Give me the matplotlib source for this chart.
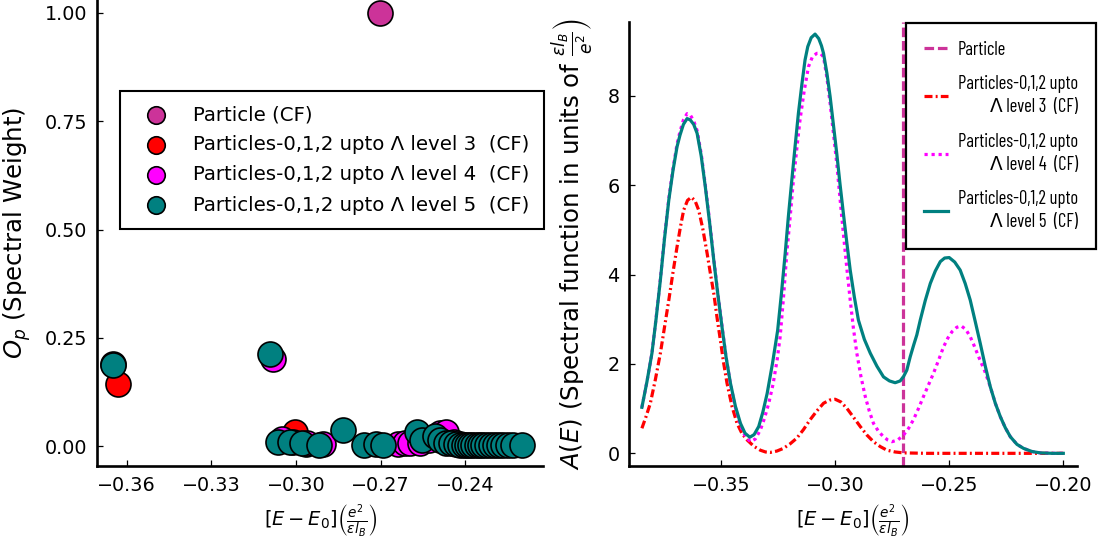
import matplotlib
matplotlib.use("Agg")
import matplotlib.pyplot as plt
from matplotlib import font_manager
from matplotlib.font_manager import FontProperties
from matplotlib.textpath import TextPath
from matplotlib.ticker import FuncFormatter

# ---------------- data: spectral weights (left panel) ----------------
particle_E = [-0.2703]
particle_W = [1.0]

lvl3_E = [-0.3630, -0.3004, -0.2965]
lvl3_W = [0.143, 0.033, 0.004]

lvl4_E = [-0.3650, -0.3083, -0.3050, -0.3010, -0.2960, -0.2905, -0.2640,
          -0.2615, -0.2595, -0.2560, -0.2530, -0.2490, -0.2467, -0.2440, -0.2420]
lvl4_W = [0.190, 0.200, 0.016, 0.010, 0.006, 0.004, 0.004,
          0.006, 0.008, 0.006, 0.015, 0.030, 0.032, 0.010, 0.004]

lvl5_E = [-0.3647, -0.3092, -0.3063, -0.3022, -0.2980, -0.2919, -0.2835, -0.2760,
          -0.2718, -0.2693, -0.2573, -0.2552, -0.2508, -0.2490, -0.2467, -0.2450,
          -0.2435, -0.2419, -0.2405, -0.2396, -0.2384, -0.2372, -0.2360, -0.2349,
          -0.2337, -0.2325, -0.2310, -0.2295, -0.2280, -0.2266, -0.2250, -0.2231,
          -0.2201]
lvl5_W = [0.187, 0.212, 0.010, 0.010, 0.006, 0.002, 0.037, 0.002,
          0.004, 0.002, 0.033, 0.013, 0.024, 0.013, 0.008, 0.006,
          0.004, 0.003, 0.003, 0.002, 0.002, 0.002, 0.002, 0.002,
          0.002, 0.002, 0.002, 0.002, 0.002, 0.002, 0.002, 0.002,
          0.002]

# ---------------- data: spectral functions (right panel) ----------------
A3_E = [-0.3847, -0.3829, -0.3810, -0.3788, -0.3766, -0.3748, -0.3729, -0.3711,
        -0.3693, -0.3678, -0.3664, -0.3647, -0.3630, -0.3614, -0.3598, -0.3580,
        -0.3561, -0.3547, -0.3532, -0.3518, -0.3503, -0.3489, -0.3474, -0.3452,
        -0.3430, -0.3408, -0.3386, -0.3357, -0.3328, -0.3305, -0.3285, -0.3256,
        -0.3227, -0.3198, -0.3168, -0.3139, -0.3110, -0.3080, -0.3051, -0.3025,
        -0.3000, -0.2975, -0.2949, -0.2920, -0.2890, -0.2861, -0.2832, -0.2802,
        -0.2773, -0.2737, -0.2700, -0.2600, -0.2000]
A3_V = [0.56, 0.82, 1.12, 1.65, 2.24, 2.82, 3.43, 4.04,
        4.62, 5.07, 5.44, 5.66, 5.73, 5.65, 5.44, 5.02,
        4.47, 4.03, 3.58, 3.05, 2.53, 2.03, 1.57, 1.05,
        0.67, 0.44, 0.30, 0.16, 0.07, 0.03, 0.02, 0.05,
        0.11, 0.21, 0.34, 0.53, 0.75, 0.95, 1.12, 1.19,
        1.21, 1.15, 1.01, 0.81, 0.60, 0.41, 0.26, 0.15,
        0.07, 0.03, 0.01, 0.00, 0.00]

A4_E = [-0.3847, -0.3825, -0.3803, -0.3785, -0.3766, -0.3748, -0.3729, -0.3711,
        -0.3693, -0.3680, -0.3665, -0.3649, -0.3635, -0.3620, -0.3605, -0.3587,
        -0.3569, -0.3550, -0.3532, -0.3514, -0.3496, -0.3478, -0.3459, -0.3437,
        -0.3415, -0.3393, -0.3371, -0.3350, -0.3328, -0.3310, -0.3291, -0.3272,
        -0.3254, -0.3241, -0.3227, -0.3212, -0.3197, -0.3183, -0.3168, -0.3154,
        -0.3136, -0.3117, -0.3099, -0.3080, -0.3065, -0.3051, -0.3036, -0.3022,
        -0.3008, -0.2993, -0.2979, -0.2964, -0.2949, -0.2934, -0.2920, -0.2905,
        -0.2887, -0.2868, -0.2850, -0.2832, -0.2811, -0.2790, -0.2770, -0.2751,
        -0.2725, -0.2700, -0.2678, -0.2657, -0.2635, -0.2613, -0.2591, -0.2569,
        -0.2547, -0.2525, -0.2506, -0.2488, -0.2467, -0.2447, -0.2427, -0.2408,
        -0.2390, -0.2371, -0.2345, -0.2320, -0.2298, -0.2276, -0.2254, -0.2232,
        -0.2203, -0.2174, -0.2137, -0.2101, -0.2050, -0.2000]
A4_V = [1.03, 1.60, 2.24, 3.02, 3.90, 4.83, 5.70, 6.36,
        6.92, 7.20, 7.46, 7.60, 7.57, 7.44, 7.22, 6.70,
        6.00, 5.18, 4.35, 3.57, 2.85, 2.15, 1.55, 1.02,
        0.62, 0.37, 0.26, 0.32, 0.52, 0.78, 1.12, 1.55,
        2.10, 2.61, 3.45, 4.47, 5.30, 6.11, 6.82, 7.46,
        8.10, 8.65, 8.88, 8.95, 8.95, 8.87, 8.40, 7.83,
        7.18, 6.49, 5.72, 4.92, 4.15, 3.43, 2.80, 2.24,
        1.72, 1.27, 0.94, 0.67, 0.50, 0.38, 0.30, 0.26,
        0.30, 0.41, 0.56, 0.75, 1.00, 1.27, 1.53, 1.79,
        2.08, 2.38, 2.58, 2.72, 2.82, 2.85, 2.77, 2.61,
        2.40, 2.16, 1.85, 1.49, 1.12, 0.82, 0.57, 0.37,
        0.20, 0.11, 0.04, 0.01, 0.00, 0.00]

A5_E = [-0.3847, -0.3825, -0.3803, -0.3785, -0.3766, -0.3748, -0.3729, -0.3711,
        -0.3693, -0.3680, -0.3665, -0.3649, -0.3635, -0.3620, -0.3605, -0.3587,
        -0.3569, -0.3550, -0.3532, -0.3514, -0.3496, -0.3478, -0.3459, -0.3437,
        -0.3415, -0.3395, -0.3374, -0.3355, -0.3335, -0.3317, -0.3298, -0.3275,
        -0.3252, -0.3235, -0.3219, -0.3205, -0.3190, -0.3175, -0.3161, -0.3146,
        -0.3132, -0.3120, -0.3105, -0.3088, -0.3072, -0.3060, -0.3051, -0.3036,
        -0.3022, -0.3008, -0.2993, -0.2979, -0.2964, -0.2949, -0.2934, -0.2916,
        -0.2898, -0.2872, -0.2846, -0.2817, -0.2788, -0.2762, -0.2737, -0.2715,
        -0.2700, -0.2686, -0.2671, -0.2656, -0.2642, -0.2627, -0.2605, -0.2583,
        -0.2561, -0.2539, -0.2520, -0.2500, -0.2476, -0.2452, -0.2430, -0.2408,
        -0.2386, -0.2364, -0.2342, -0.2320, -0.2298, -0.2276, -0.2254, -0.2232,
        -0.2203, -0.2174, -0.2137, -0.2101, -0.2050, -0.2000]
A5_V = [1.03, 1.60, 2.24, 3.00, 3.88, 4.80, 5.67, 6.32,
        6.86, 7.12, 7.36, 7.49, 7.46, 7.36, 7.16, 6.65,
        5.96, 5.15, 4.32, 3.55, 2.83, 2.15, 1.57, 1.05,
        0.67, 0.45, 0.36, 0.42, 0.60, 0.92, 1.34, 2.00,
        2.75, 3.60, 4.47, 5.30, 6.11, 6.90, 7.61, 8.25,
        8.80, 9.10, 9.30, 9.38, 9.28, 9.12, 8.95, 8.50,
        7.98, 7.37, 6.71, 6.04, 5.37, 4.72, 4.10, 3.50,
        2.98, 2.55, 2.24, 1.95, 1.71, 1.62, 1.58, 1.62,
        1.72, 1.86, 2.16, 2.42, 2.65, 2.98, 3.42, 3.80,
        4.08, 4.29, 4.37, 4.38, 4.28, 4.10, 3.80, 3.43,
        2.95, 2.46, 1.95, 1.49, 1.12, 0.82, 0.57, 0.37,
        0.20, 0.11, 0.04, 0.01, 0.00, 0.00]

labels_left = ["Particle (CF)",
               "Particles-0,1,2 upto \u039b level 3  (CF)",
               "Particles-0,1,2 upto \u039b level 4  (CF)",
               "Particles-0,1,2 upto \u039b level 5  (CF)"]
labels_right = ["Particle",
                "Particles-0,1,2 upto\n\u039b level 3  (CF)",
                "Particles-0,1,2 upto\n\u039b level 4  (CF)",
                "Particles-0,1,2 upto\n\u039b level 5  (CF)"]

COL_P = "#CC3399"
COL_3 = "#FF0000"
COL_4 = "#FF00FF"
COL_5 = "#008080"

plt.rcParams['font.family'] = ['DejaVu Sans']
plt.rcParams['mathtext.fontset'] = 'dejavusans'

fig = plt.figure(figsize=(11.02, 5.40), dpi=100)
axL = fig.add_axes([0.0883, 0.1370, 0.4047, 0.8630])
axR = fig.add_axes([0.5711, 0.1370, 0.4060, 0.8222])

minus_fmt = FuncFormatter(lambda v, p: f"{v:.2f}".replace('-', '\u2212'))
int_fmt = FuncFormatter(lambda v, p: f"{v:.0f}".replace('-', '\u2212'))

for ax in (axL, axR):
    for s in ('top', 'right'):
        ax.spines[s].set_visible(False)
    for s in ('left', 'bottom'):
        ax.spines[s].set_linewidth(1.9)
    ax.tick_params(direction='in', length=4.3, width=0.9, labelsize=13.8, pad=7)

# ---- left panel ----
MS = 324
axL.scatter(particle_E, particle_W, s=MS, c=COL_P, edgecolors='black', linewidths=1.2,
            label=labels_left[0], zorder=3)
axL.scatter(lvl3_E, lvl3_W, s=MS, c=COL_3, edgecolors='black', linewidths=1.2,
            label=labels_left[1], zorder=3)
axL.scatter(lvl4_E, lvl4_W, s=MS, c=COL_4, edgecolors='black', linewidths=1.2,
            label=labels_left[2], zorder=3)
axL.scatter(lvl5_E, lvl5_W, s=MS, c=COL_5, edgecolors='black', linewidths=1.2,
            label=labels_left[3], zorder=3)
axL.set_xlim(-0.3704, -0.2124)
axL.set_ylim(-0.046, 1.03)
axL.set_xticks([-0.36, -0.33, -0.30, -0.27, -0.24])
axL.set_yticks([0.0, 0.25, 0.50, 0.75, 1.00])
axL.xaxis.set_major_formatter(minus_fmt)
axL.yaxis.set_major_formatter(minus_fmt)
axL.set_ylabel(r'$O_p$ (Spectral Weight)', fontsize=17.6)
axL.yaxis.set_label_coords(-0.144, 0.5)
axL.set_xlabel(r'$[E - E_0]\left(\frac{e^2}{\epsilon l_B}\right)$', fontsize=14)
axL.xaxis.set_label_coords(0.5, -0.079)
legL = axL.legend(loc='upper right', bbox_to_anchor=(1.0015, 0.8047), borderaxespad=0,
                  fontsize=14.25, markerscale=0.7, fancybox=False, edgecolor='black',
                  framealpha=1, borderpad=0.72, handlelength=2.2, handletextpad=0.8,
                  labelspacing=0.56, scatterpoints=1)
legL.get_frame().set_linewidth(1.5)

# ---- right panel ----
LW = 2.3
axR.axvline(particle_E[0], color=COL_P, lw=LW, ls=(0, (3, 1.2)), label=labels_right[0])
axR.plot(A3_E, A3_V, color=COL_3, lw=LW, ls=(0, (2.5, 1, 0.6, 1)), label=labels_right[1])
axR.plot(A4_E, A4_V, color=COL_4, lw=LW, ls=(0, (1, 1.2)), label=labels_right[2])
axR.plot(A5_E, A5_V, color=COL_5, lw=LW, ls='-', solid_joinstyle='round',
         label=labels_right[3])
axR.set_xlim(-0.3902, -0.1941)
axR.set_ylim(-0.284, 9.65)
axR.set_xticks([-0.35, -0.30, -0.25, -0.20])
axR.set_yticks([0, 2, 4, 6, 8])
axR.xaxis.set_major_formatter(minus_fmt)
axR.yaxis.set_major_formatter(int_fmt)
axR.set_ylabel(r'$A(E)$ (Spectral function in units of $\left.\frac{\epsilon l_B}{e^2}\right)$',
               fontsize=17.6)
axR.yaxis.set_label_coords(-0.077, 0.5)
axR.set_xlabel(r'$[E - E_0]\left(\frac{e^2}{\epsilon l_B}\right)$', fontsize=14)
axR.xaxis.set_label_coords(0.5, -0.083)

# ---- narrow font for the right legend (condensed look of the reference) ----
PROBE = "Particles-0,1,2 upto"
TARGET_RATIO = 8.3          # text width / cap height in the reference legend
TARGET_W_PX = 118.0
available = set(f.name for f in font_manager.fontManager.ttflist)
candidates = ['Roboto Condensed', 'Fira Sans Extra Condensed', 'Fira Sans Condensed',
              'IBM Plex Sans Condensed', 'PT Sans Narrow', 'Archivo Narrow',
              'Asap Condensed', 'Encode Sans Condensed', 'Sofia Sans Condensed',
              'Barlow Condensed', 'Barlow Semi Condensed', 'Liberation Sans Narrow']
best = ('DejaVu Sans', 1e9)
for cand in candidates:
    if cand not in available:
        continue
    try:
        fp = FontProperties(family=cand, size=10)
        wext = TextPath((0, 0), PROBE, prop=fp).get_extents().width
        cap = TextPath((0, 0), "H", prop=fp).get_extents().height
        score = abs(wext / cap - TARGET_RATIO)
        if score < best[1]:
            best = (cand, score)
    except Exception:
        pass
narrow = best[0]
fp10 = FontProperties(family=[narrow, 'DejaVu Sans'], size=10)
w10 = TextPath((0, 0), PROBE, prop=fp10).get_extents().width * 100 / 72.0
rsize = 10 * TARGET_W_PX / w10
fp_r = FontProperties(family=[narrow, 'DejaVu Sans'], size=rsize)

renderer = fig.canvas.get_renderer()
def _h(txt, ls):
    t = fig.text(0, 0, txt, fontproperties=fp_r, linespacing=ls)
    h = t.get_window_extent(renderer).height
    t.remove()
    return h
h1 = _h(PROBE, 1.2)
s_a = _h(labels_right[1], 1.0) - h1
s_b = _h(labels_right[1], 2.0) - h1
lspacing = 1.0 + (23.3 - s_a) / (s_b - s_a)
h2 = _h(labels_right[1], lspacing)
fs_px = rsize * 100 / 72.0
lab_sp = max(0.05, (57.5 - h2) / fs_px)
bpad_px = 18.0

legR = axR.legend(loc='upper right', bbox_to_anchor=(1.0431, 0.998), borderaxespad=0,
                  prop=fp_r, fancybox=False, edgecolor='black', framealpha=1,
                  borderpad=bpad_px / fs_px, handlelength=24.0 / fs_px,
                  handletextpad=10.0 / fs_px, labelspacing=lab_sp)
legR.get_frame().set_linewidth(1.6)
for t in legR.get_texts():
    t.set_multialignment('right')
    t.set_linespacing(lspacing)

fig.savefig("out.png", dpi=100)
